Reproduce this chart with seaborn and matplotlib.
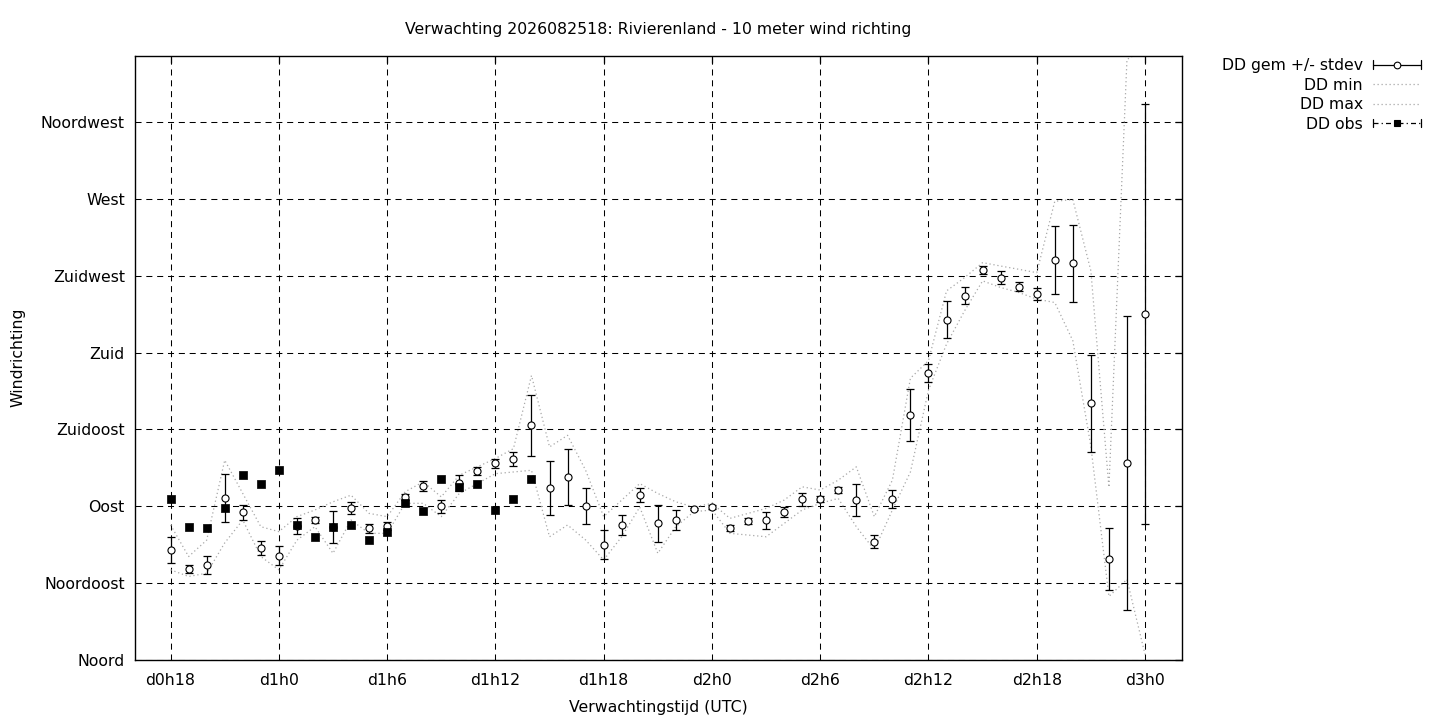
import numpy as np
import pandas as pd
import seaborn as sns
import matplotlib
matplotlib.use('Agg')
import matplotlib.pyplot as plt
from matplotlib.lines import Line2D
from matplotlib.legend_handler import HandlerBase

# forecast hours (d0h18 .. d3h0)
hours = [18, 19, 20, 21, 22, 23, 24, 25, 26, 27, 28, 29, 30, 31, 32, 33, 34, 35, 36,
         37, 38, 39, 40, 41, 42, 43, 44, 45, 46, 47, 48, 49, 50, 51, 52, 53, 54, 55,
         56, 57, 58, 59, 60, 61, 62, 63, 64, 65, 66, 67, 68, 69, 70, 71, 72]
dd_gem = [64.3, 53.0, 55.5, 94.7, 86.5, 65.5, 60.8, 78.3, 81.8, 77.7, 88.8, 77.0, 78.3,
          95.3, 101.7, 90.0, 103.4, 110.5, 115.1, 117.5, 137.3, 100.5, 107.0, 90.0, 67.2,
          78.9, 96.4, 80.0, 81.8, 88.2, 89.4, 77.1, 81.2, 81.8, 86.5, 94.0, 94.0, 99.4,
          93.5, 69.0, 94.0, 143.2, 168.3, 199.3, 213.3, 228.5, 223.8, 218.6, 214.5, 234.3,
          232.3, 150.3, 59.0, 115.0, 202.6]
dd_std = [7.5, 2.3, 5.5, 14.0, 4.4, 4.0, 5.5, 4.5, 2.0, 9.6, 3.5, 2.6, 2.3, 1.6, 3.0,
          3.8, 4.7, 2.3, 2.6, 4.1, 18.0, 15.8, 16.4, 10.5, 8.5, 6.1, 4.1, 10.8, 5.8, 0.5,
          1.2, 1.8, 2.0, 5.0, 3.2, 3.8, 1.8, 1.8, 9.4, 3.8, 5.3, 15.2, 5.3, 10.8, 5.0, 2.3,
          3.8, 2.6, 3.5, 20.0, 22.8, 28.5, 18.4, 86.2, 123.2]
dd_min = [52.6, 48.7, 50.6, 68.4, 81.8, 60.4, 52.6, 70.0, 77.9, 62.3, 81.8, 74.0, 74.0,
          91.6, 91.6, 83.8, 97.4, 103.2, 109.0, 110.0, 111.0, 72.0, 78.9, 70.1, 58.4,
          72.0, 89.4, 62.3, 77.9, 86.7, 87.7, 74.0, 73.0, 72.0, 79.8, 87.7, 91.6, 94.5,
          77.9, 64.3, 87.7, 110.0, 158.0, 185.0, 204.5, 222.1, 218.2, 215.3, 211.4, 209.4,
          187.0, 125.0, 37.0, 47.0, 3.0]
dd_max = [78.9, 60.4, 70.0, 116.9, 97.4, 77.9, 75.0, 83.8, 87.7, 92.5, 96.4, 85.7, 83.8,
          98.4, 104.2, 95.4, 108.1, 113.0, 117.9, 123.7, 166.6, 124.7, 131.5, 111.0, 83.8,
          93.5, 103.2, 97.4, 92.5, 89.4, 91.6, 82.8, 85.7, 88.6, 93.5, 101.3, 99.4, 105.2,
          113.0, 83.8, 105.2, 165.0, 175.3, 216.2, 224.0, 232.8, 230.8, 228.9, 226.9, 268.8,
          269.8, 228.0, 101.0, 352.0, 358.0]
obs_hours = [18, 19, 20, 21, 22, 23, 24, 25, 26, 27, 28, 29, 30, 31, 32, 33, 34, 35, 36, 37, 38]
dd_obs = [94.1, 77.6, 77.0, 88.6, 108.1, 102.9, 111.0, 78.7, 71.7, 77.6, 78.7, 70.0, 74.6,
          91.8, 87.1, 105.8, 101.1, 102.7, 87.5, 94.1, 105.8]

x_ticks = [18, 24, 30, 36, 42, 48, 54, 60, 66, 72]
x_labels = ['d0h18', 'd1h0', 'd1h6', 'd1h12', 'd1h18', 'd2h0', 'd2h6', 'd2h12', 'd2h18', 'd3h0']
y_ticks = [0, 45, 90, 135, 180, 225, 270, 315]
y_labels = ['Noord', 'Noordoost', 'Oost', 'Zuidoost', 'Zuid', 'Zuidwest', 'West', 'Noordwest']

fc = pd.DataFrame({'uur': hours, 'gem': dd_gem, 'std': dd_std, 'min': dd_min, 'max': dd_max})
ob = pd.DataFrame({'uur': obs_hours, 'obs': dd_obs})

sns.set_style('white')
plt.rcParams['font.family'] = ['DejaVu Sans']
plt.rcParams['text.color'] = 'black'
plt.rcParams['axes.labelcolor'] = 'black'
FS = 11.3
GRAY = '#a8a8a8'


class KeyHandler(HandlerBase):
    # gnuplot-like key sample: line, optional end caps, optional marker in the middle
    def __init__(self, color, ls, caps=False, marker=None, mfc='white'):
        super().__init__()
        self.color, self.ls, self.caps, self.marker, self.mfc = color, ls, caps, marker, mfc

    def create_artists(self, legend, orig_handle, xdescent, ydescent, width, height, fontsize, trans):
        x0, x1 = -xdescent, width - xdescent
        y = height / 2 - ydescent
        arts = [Line2D([x0, x1], [y, y], color=self.color, ls=self.ls, lw=0.9)]
        if self.caps:
            arts += [Line2D([x, x], [y - 3, y + 3], color='black', lw=0.9) for x in (x0, x1)]
        if self.marker:
            arts.append(Line2D([(x0 + x1) / 2], [y], marker=self.marker, ms=4.8, mfc=self.mfc,
                               mec='black', mew=0.8, ls='none'))
        for a in arts:
            a.set_transform(trans)
        return arts


fig = plt.figure(figsize=(14.4, 7.2), dpi=100)
ax = fig.add_axes([134.5 / 1440, 1 - 659.5 / 720, (1182 - 134.5) / 1440, (659.5 - 56) / 720])

# min / max envelopes
sns.lineplot(data=fc, x='uur', y='min', ax=ax, color=GRAY, lw=0.9, ls=(0, (1, 2.2)), zorder=2)
sns.lineplot(data=fc, x='uur', y='max', ax=ax, color=GRAY, lw=0.9, ls=(0, (1, 2.2)), zorder=2)

# mean +/- stdev
ax.errorbar(fc['uur'], fc['gem'], yerr=fc['std'], fmt='none', ecolor='black',
            elinewidth=0.9, capsize=3.2, capthick=0.9, zorder=3)
sns.scatterplot(data=fc, x='uur', y='gem', ax=ax, marker='o', s=26, facecolor='white',
                edgecolor='black', linewidth=0.8, zorder=4)

# observations
sns.scatterplot(data=ob, x='uur', y='obs', ax=ax, marker='s', s=30, color='black',
                edgecolor='black', linewidth=0.5, zorder=5)

ax.set_xlim(16, 74.05)
ax.set_ylim(0, 354)
ax.set_xticks(x_ticks)
ax.set_xticklabels(x_labels)
ax.set_yticks(y_ticks)
ax.set_yticklabels(y_labels)
ax.grid(True, color='black', lw=0.75, ls=(0, (5.8, 4.6)))
ax.set_axisbelow(True)
ax.tick_params(axis='both', direction='in', length=5, width=0.9, top=True, right=True,
               labelsize=FS, colors='black')
ax.tick_params(axis='x', pad=10)
ax.tick_params(axis='y', pad=7)
for sp in ax.spines.values():
    sp.set_visible(True)
    sp.set_color('black')
    sp.set_linewidth(1.0)

ax.set_xlabel('Verwachtingstijd (UTC)', fontsize=FS, labelpad=8.5)
ax.set_ylabel('Windrichting', fontsize=FS, labelpad=11)
ax.set_title('Verwachting 2026082518: Rivierenland - 10 meter wind richting', fontsize=FS, pad=16)

h_gem, h_min, h_max, h_obs = Line2D([], []), Line2D([], []), Line2D([], []), Line2D([], [])
ax.legend([h_gem, h_min, h_max, h_obs], ['DD gem +/- stdev', 'DD min', 'DD max', 'DD obs'],
          handler_map={h_gem: KeyHandler('black', '-', caps=True, marker='o'),
                       h_min: KeyHandler(GRAY, (0, (1, 2.2))),
                       h_max: KeyHandler(GRAY, (0, (1, 2.2))),
                       h_obs: KeyHandler('black', (0, (4, 2.5, 1, 2.5)), caps=True, marker='s', mfc='black')},
          loc='upper right', bbox_to_anchor=(1421 / 1440, 1 - 58 / 720), bbox_transform=fig.transFigure,
          frameon=False, markerfirst=False, fontsize=FS, handlelength=3.05, handletextpad=0.65,
          labelspacing=0.29, borderpad=0, borderaxespad=0)

fig.savefig('out.png', dpi=100)
